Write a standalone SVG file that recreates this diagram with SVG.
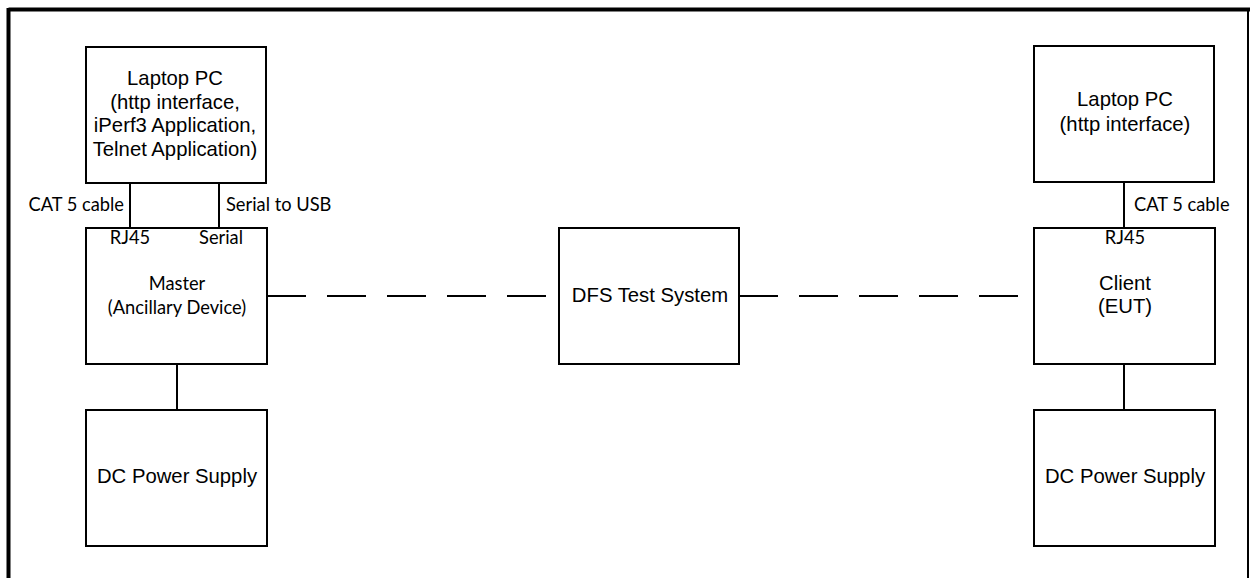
<svg xmlns="http://www.w3.org/2000/svg" width="1250" height="578" viewBox="0 0 1250 578">
<style>
.box{fill:#fff;stroke:#000;stroke-width:2}
.ln{stroke:#000;stroke-width:2;fill:none}
.dash{stroke:#000;stroke-width:2;fill:none;stroke-dasharray:39 21}
.a{font-family:"Liberation Sans",Arial,sans-serif;font-size:20.3px;fill:#000;text-anchor:middle}
.c{font-family:Lato,"Liberation Sans",sans-serif;font-size:18.3px;fill:#000}
</style>
<rect width="1250" height="578" fill="#fff"/>
<g id="frame">
<line x1="8.5" y1="9.5" x2="1250" y2="9.5" stroke="#000" stroke-width="4"/>
<line x1="8.5" y1="8" x2="8.5" y2="578" stroke="#000" stroke-width="4"/>
<line x1="1248" y1="9" x2="1248" y2="578" stroke="#000" stroke-width="2"/>
</g>
<g id="connectors">
<line class="ln" x1="130" y1="183" x2="130" y2="228"/>
<line class="ln" x1="219" y1="183" x2="219" y2="228"/>
<line class="ln" x1="177" y1="364" x2="177" y2="410"/>
<line class="ln" x1="1124" y1="182" x2="1124" y2="228"/>
<line class="ln" x1="1124" y1="364" x2="1124" y2="410"/>
<line class="dash" x1="267" y1="296" x2="559" y2="296"/>
<line class="dash" x1="739" y1="296" x2="1034" y2="296"/>
<text class="c" x="124" y="211" text-anchor="end">CAT 5 cable</text>
<text class="c" x="226" y="211">Serial to USB</text>
<text class="c" x="1134" y="211">CAT 5 cable</text>
</g>
<g id="laptop-left">
<rect class="box" x="86" y="47" width="180" height="136"/>
<text class="a" x="175" y="85">Laptop PC</text>
<text class="a" x="175" y="109">(http interface,</text>
<text class="a" x="175" y="132">iPerf3 Application,</text>
<text class="a" x="175" y="156">Telnet Application)</text>
</g>
<g id="master">
<rect class="box" x="86" y="228" width="181" height="136"/>
<text class="c" x="130" y="244" text-anchor="middle">RJ45</text>
<text class="c" x="221" y="244" text-anchor="middle">Serial</text>
<text class="c" x="177" y="290" text-anchor="middle">Master</text>
<text class="c" x="177" y="314" text-anchor="middle">(Ancillary Device)</text>
</g>
<g id="dc-left">
<rect class="box" x="86" y="410" width="181" height="136"/>
<text class="a" x="177" y="483">DC Power Supply</text>
</g>
<g id="dfs">
<rect class="box" x="559" y="228" width="180" height="136"/>
<text class="a" x="650" y="302">DFS Test System</text>
</g>
<g id="laptop-right">
<rect class="box" x="1034" y="46" width="180" height="136"/>
<text class="a" x="1125" y="106">Laptop PC</text>
<text class="a" x="1125" y="131">(http interface)</text>
</g>
<g id="client">
<rect class="box" x="1034" y="228" width="181" height="136"/>
<text class="c" x="1125" y="244" text-anchor="middle">RJ45</text>
<text class="a" x="1125" y="290">Client</text>
<text class="a" x="1125" y="313">(EUT)</text>
</g>
<g id="dc-right">
<rect class="box" x="1034" y="410" width="181" height="136"/>
<text class="a" x="1125" y="483">DC Power Supply</text>
</g>
</svg>
